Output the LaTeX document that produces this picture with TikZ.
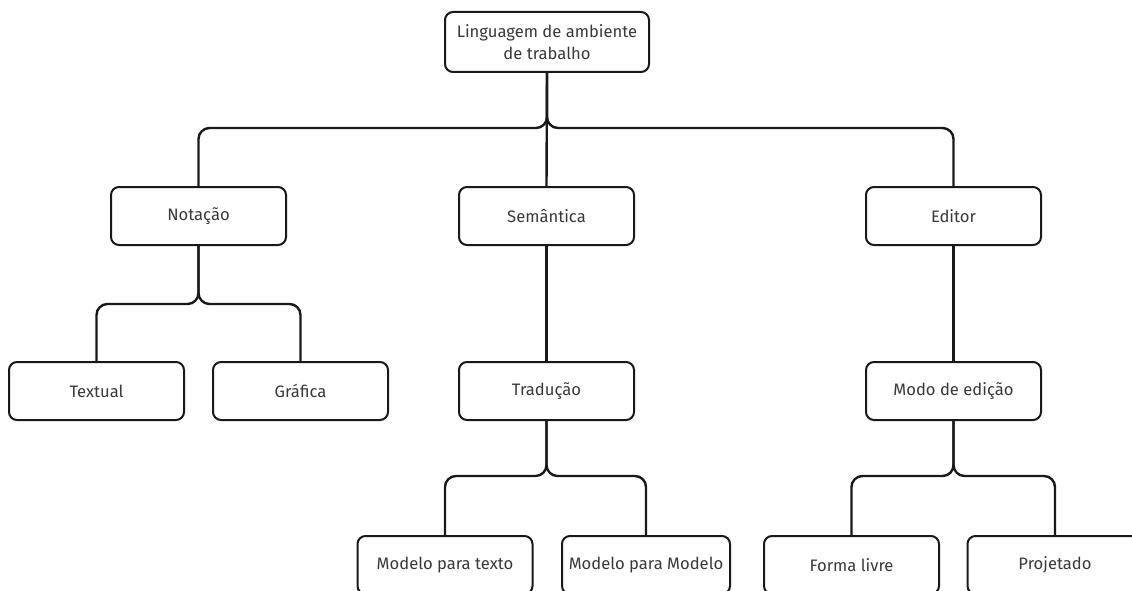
\documentclass[tikz,border=0pt]{standalone}
\usepackage{fontspec}
\setmainfont{Fira Sans}
\begin{document}
\begin{tikzpicture}[x=1pt,y=-1pt,
  box/.style={draw=black!90, line width=2pt, rounded corners=8pt,
    minimum width=175pt, minimum height=58pt, inner sep=0pt,
    font=\fontsize{16.6}{22}\selectfont, align=center, text=black!78},
  link/.style={draw=black!90, line width=2.4pt, rounded corners=11pt}]
\useasboundingbox (0,0) rectangle (1132,591);
\clip (0,0) rectangle (1132,591);

% tree nodes
\node[box, minimum width=204pt, minimum height=60pt] (root) at (547,42) {Linguagem de ambiente\\de trabalho};

\node[box] (notacao)   at (198.5,216) {Notação};
\node[box] (semantica) at (546.5,216) {Semântica};
\node[box] (editor)    at (953.5,216) {Editor};

\node[box] (textual)   at (96.5,391)  {Textual};
\node[box] (grafica)   at (300.5,391) {Gráfica};
\node[box] (traducao)  at (546.5,391) {Tradução};
\node[box] (modo)      at (953.5,391) {Modo de edição};

\node[box] (mtexto)    at (445,565)   {Modelo para texto};
\node[box, minimum width=168pt] (mmodelo) at (646,565) {Modelo para Modelo};
\node[box] (forma)     at (851.5,565) {Forma livre};
\node[box] (projetado) at (1055,565)  {Projetado};

% bus levels of the elbow connectors
\coordinate (b0) at (0,128);
\coordinate (b1) at (0,304);
\coordinate (b2) at (0,476);

% connectors
\draw[link] (root.south) -- (root.south |- b0) -- (notacao.north |- b0) -- (notacao.north);
\draw[link] (root.south) -- (semantica.north);
\draw[link] (root.south) -- (root.south |- b0) -- (editor.north |- b0) -- (editor.north);

\draw[link] (notacao.south) -- (notacao.south |- b1) -- (textual.north |- b1) -- (textual.north);
\draw[link] (notacao.south) -- (notacao.south |- b1) -- (grafica.north |- b1) -- (grafica.north);

\draw[link] (semantica.south) -- (traducao.north);
\draw[link] (editor.south) -- (modo.north);

\draw[link] (traducao.south) -- (traducao.south |- b2) -- (mtexto.north |- b2) -- (mtexto.north);
\draw[link] (traducao.south) -- (traducao.south |- b2) -- (mmodelo.north |- b2) -- (mmodelo.north);

\draw[link] (modo.south) -- (modo.south |- b2) -- (forma.north |- b2) -- (forma.north);
\draw[link] (modo.south) -- (modo.south |- b2) -- (projetado.north |- b2) -- (projetado.north);
\end{tikzpicture}
\end{document}
